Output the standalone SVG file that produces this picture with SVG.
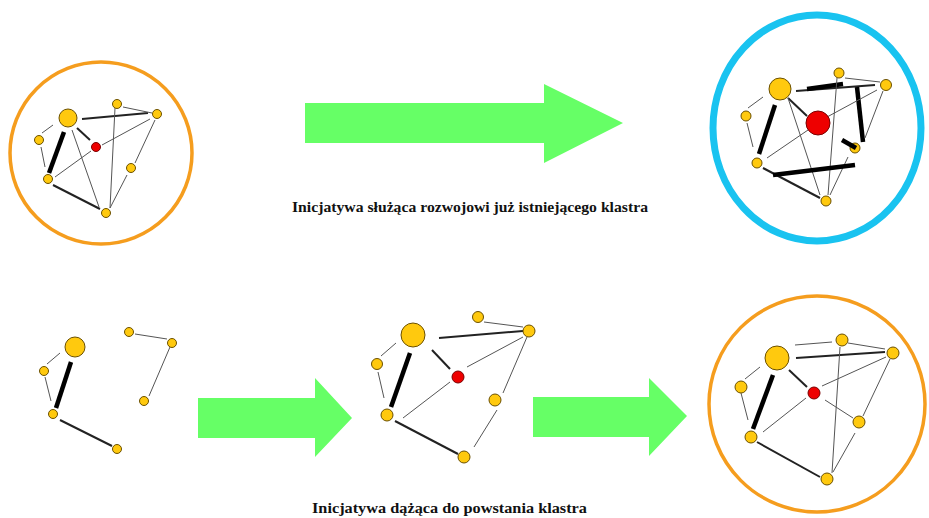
<svg xmlns="http://www.w3.org/2000/svg" width="929" height="518" viewBox="0 0 929 518">
<style>
.ring-o{fill:none;stroke:#F59D1E;stroke-width:3.5}
.ring-b{fill:none;stroke:#19C3F0;stroke-width:7}
.n{fill:#FFC90E;stroke:#6B5000;stroke-width:1}
.r{fill:#EE0000;stroke:#7A0000;stroke-width:1}
.t{stroke:#555;stroke-width:1;fill:none}
.m{stroke:#222;stroke-width:2;fill:none}
.k{stroke:#000;stroke-width:4.5;fill:none;stroke-linecap:butt}
.arr{fill:#66FF66}
.lbl{font-family:"Liberation Serif","Times New Roman",serif;font-weight:bold;fill:#111}
</style>

<g id="arrows">
<polygon class="arr" points="305,103 544,103 544,84 623,123 544,163 544,143 305,143"/>
<polygon class="arr" points="198,398 315,398 315,378 352,418 315,457 315,438 198,438"/>
<polygon class="arr" points="533,397 649,397 649,378 687,416 649,456 649,437 533,437"/>
</g>

<!-- Cluster 1 (top left) -->
<g id="cluster1">
<circle class="ring-o" cx="101" cy="153" r="91"/>
<g id="c1-edges">
<line class="m" x1="82" y1="119" x2="148" y2="113"/>
<line class="t" x1="123" y1="107" x2="152" y2="113"/>
<line class="t" x1="53" y1="125" x2="42" y2="133"/>
<line class="k" x1="64" y1="132" x2="49" y2="173"/>
<line class="t" x1="41" y1="147" x2="45" y2="167"/>
<line class="m" x1="77" y1="128" x2="90" y2="140"/>
<line class="t" x1="72" y1="130" x2="99" y2="207"/>
<line class="t" x1="91" y1="151" x2="55" y2="177"/>
<line class="t" x1="102" y1="145" x2="150" y2="119"/>
<line class="t" x1="115" y1="108" x2="110" y2="208"/>
<line class="t" x1="155" y1="120" x2="135" y2="163"/>
<line class="t" x1="127" y1="175" x2="110" y2="208"/>
<line class="m" x1="53" y1="185" x2="100" y2="209"/>
</g>
<circle class="n" cx="68" cy="118" r="9"/>
<circle class="n" cx="39" cy="140" r="4.5"/>
<circle class="n" cx="117" cy="104" r="4.5"/>
<circle class="n" cx="157" cy="114" r="4.5"/>
<circle class="r" cx="96" cy="147" r="4.5"/>
<circle class="n" cx="131" cy="168" r="4.5"/>
<circle class="n" cx="48" cy="179" r="4.5"/>
<circle class="n" cx="106" cy="213" r="4.5"/>
</g>

<!-- Cluster 2 (top right) -->
<g id="cluster2">
<ellipse class="ring-b" cx="817" cy="128" rx="104" ry="113"/>
<g id="c2-edges">
<line class="t" x1="763" y1="97" x2="748" y2="108"/>
<line class="k" x1="775" y1="105" x2="759" y2="154"/>
<line class="t" x1="747" y1="123" x2="753" y2="147"/>
<line class="m" x1="796" y1="91" x2="875" y2="85"/>
<line class="k" x1="807" y1="89" x2="843" y2="84"/>
<line class="t" x1="845" y1="78" x2="880" y2="82"/>
<line class="k" x1="857" y1="87" x2="863" y2="142"/>
<line class="t" x1="883" y1="91" x2="865" y2="138"/>
<line class="m" x1="788" y1="98" x2="807" y2="116"/>
<line class="t" x1="827" y1="117" x2="877" y2="90"/>
<line class="t" x1="767" y1="158" x2="808" y2="130"/>
<line class="t" x1="788" y1="98" x2="820" y2="195"/>
<line class="t" x1="837" y1="78" x2="828" y2="195"/>
<line class="t" x1="848" y1="157" x2="830" y2="195"/>
<line class="m" x1="763" y1="168" x2="820" y2="198"/>
<line class="k" x1="773" y1="175" x2="855" y2="165"/>
</g>
<circle class="n" cx="780" cy="89" r="11"/>
<circle class="n" cx="746" cy="116" r="5"/>
<circle class="n" cx="839" cy="73" r="5"/>
<circle class="n" cx="886" cy="85" r="5.5"/>
<circle class="r" cx="818" cy="123" r="12"/>
<circle class="n" cx="855" cy="148" r="5"/>
<line class="k" x1="842" y1="140" x2="856" y2="148"/>
<circle class="n" cx="757" cy="163" r="5"/>
<circle class="n" cx="826" cy="201" r="5"/>
</g>

<!-- Cluster 3 (bottom left, scattered) -->
<g id="cluster3">
<g id="c3-edges">
<line class="t" x1="60" y1="353" x2="47" y2="364"/>
<line class="k" x1="71" y1="362" x2="56" y2="408"/>
<line class="t" x1="45" y1="377" x2="51" y2="401"/>
<line class="m" x1="60" y1="420" x2="112" y2="446"/>
<line class="t" x1="135" y1="334" x2="167" y2="339"/>
<line class="t" x1="170" y1="347" x2="149" y2="396"/>
</g>
<circle class="n" cx="75" cy="347" r="10"/>
<circle class="n" cx="44" cy="371" r="4.5"/>
<circle class="n" cx="53" cy="414" r="4.5"/>
<circle class="n" cx="117" cy="449" r="4.5"/>
<circle class="n" cx="129" cy="332" r="4.5"/>
<circle class="n" cx="172" cy="343" r="4.5"/>
<circle class="n" cx="144" cy="401" r="4.5"/>
</g>

<!-- Cluster 4 (bottom middle) -->
<g id="cluster4">
<g id="c4-edges">
<line class="t" x1="484" y1="322" x2="523" y2="327"/>
<line class="m" x1="439" y1="338" x2="523" y2="331"/>
<line class="t" x1="396" y1="343" x2="381" y2="356"/>
<line class="k" x1="410" y1="353" x2="391" y2="407"/>
<line class="t" x1="378" y1="372" x2="384" y2="398"/>
<line class="m" x1="432" y1="350" x2="450" y2="369"/>
<line class="t" x1="467" y1="367" x2="523" y2="337"/>
<line class="t" x1="450" y1="382" x2="403" y2="418"/>
<line class="t" x1="527" y1="337" x2="503" y2="393"/>
<line class="t" x1="497" y1="410" x2="474" y2="447"/>
<line class="m" x1="395" y1="421" x2="458" y2="454"/>
</g>
<circle class="n" cx="413" cy="335" r="12"/>
<circle class="n" cx="478" cy="317" r="5.5"/>
<circle class="n" cx="529" cy="331" r="6"/>
<circle class="n" cx="377" cy="364" r="5.5"/>
<circle class="r" cx="458" cy="377" r="6"/>
<circle class="n" cx="495" cy="400" r="6"/>
<circle class="n" cx="387" cy="415" r="6"/>
<circle class="n" cx="464" cy="457" r="6"/>
</g>

<!-- Cluster 5 (bottom right) -->
<g id="cluster5">
<circle class="ring-o" cx="817" cy="404" r="108"/>
<g id="c5-edges">
<line class="t" x1="795" y1="345" x2="832" y2="342"/>
<line class="t" x1="848" y1="343" x2="885" y2="349"/>
<line class="m" x1="796" y1="358" x2="885" y2="352"/>
<line class="t" x1="760" y1="367" x2="745" y2="379"/>
<line class="k" x1="773" y1="375" x2="753" y2="429"/>
<line class="t" x1="741" y1="393" x2="748" y2="420"/>
<line class="m" x1="789" y1="370" x2="807" y2="387"/>
<line class="t" x1="822" y1="386" x2="886" y2="357"/>
<line class="t" x1="806" y1="398" x2="763" y2="432"/>
<line class="t" x1="825" y1="400" x2="853" y2="418"/>
<line class="t" x1="840" y1="347" x2="832" y2="473"/>
<line class="t" x1="890" y1="359" x2="863" y2="416"/>
<line class="t" x1="855" y1="433" x2="833" y2="472"/>
<line class="m" x1="757" y1="442" x2="820" y2="477"/>
</g>
<circle class="n" cx="777" cy="358" r="12"/>
<circle class="n" cx="842" cy="340" r="6"/>
<circle class="n" cx="893" cy="353" r="6"/>
<circle class="n" cx="741" cy="387" r="6"/>
<circle class="r" cx="814" cy="393" r="6"/>
<circle class="n" cx="859" cy="422" r="6"/>
<circle class="n" cx="751" cy="437" r="6"/>
<circle class="n" cx="827" cy="479" r="6"/>
</g>

<g id="labels">
<text class="lbl" x="292" y="212" font-size="15" textLength="356" lengthAdjust="spacingAndGlyphs">Inicjatywa służąca rozwojowi już istniejącego klastra</text>
<text class="lbl" x="312" y="513" font-size="15" textLength="275" lengthAdjust="spacingAndGlyphs">Inicjatywa dążąca do powstania klastra</text>
</g>
</svg>
